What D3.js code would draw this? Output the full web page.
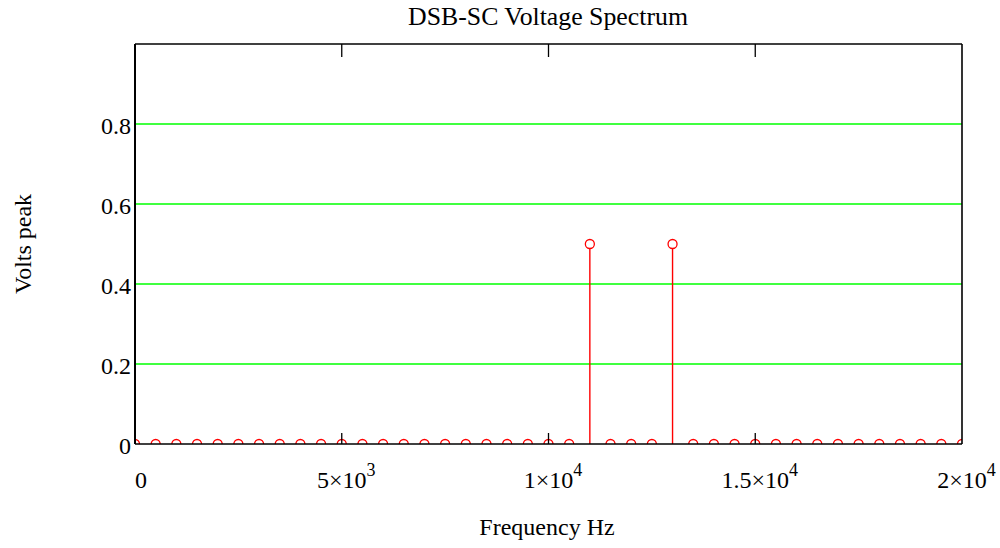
<!DOCTYPE html>
<html><head><meta charset="utf-8">
<script src="https://cdn.jsdelivr.net/npm/d3@7"></script>
<style>body{margin:0;background:#fff}svg{display:block}text{font-family:"Liberation Serif","Times New Roman",serif;fill:#000}</style>
</head><body><svg id="c" width="1000" height="548"></svg>
<script>
// Data
const frequencies = [0,500,1000,1500,2000,2500,3000,3500,4000,4500,5000,5500,6000,6500,7000,7500,8000,8500,9000,9500,10000,10500,11000,11500,12000,12500,13000,13500,14000,14500,15000,15500,16000,16500,17000,17500,18000,18500,19000,19500,20000];
const voltages = [0,0,0,0,0,0,0,0,0,0,0,0,0,0,0,0,0,0,0,0,0,0,0.5,0,0,0,0.5,0,0,0,0,0,0,0,0,0,0,0,0,0,0];
const xTicks = [0,5000,10000,15000,20000];
const xTickMantissa = ["0","5×10","1×10","1.5×10","2×10"];
const xTickExponent = ["","3","4","4","4"];
const yTicks = [0,0.2,0.4,0.6,0.8];
const yTickLabels = ["0","0.2","0.4","0.6","0.8"];
const yGrid = [0.2,0.4,0.6,0.8];

const svg = d3.select("#c");
const L=135,R=962,T=44,B=444;
const x = d3.scaleLinear().domain([0,20000]).range([L,R]);
const y = d3.scaleLinear().domain([0,1]).range([B,T]);

svg.append("defs").append("clipPath").attr("id","clip")
  .append("rect").attr("x",L).attr("y",T).attr("width",R-L).attr("height",B-T);

// gridlines
svg.append("g").selectAll("line").data(yGrid).join("line")
  .attr("x1",L).attr("x2",R).attr("y1",d=>y(d)).attr("y2",d=>y(d))
  .attr("stroke","#00ff00").attr("stroke-width",1.5);

const pts = frequencies.map((f,i)=>({f,v:voltages[i]}));
const g = svg.append("g").attr("clip-path","url(#clip)");
g.selectAll("line.stem").data(pts.filter(d=>d.v>0)).join("line").attr("class","stem")
  .attr("x1",d=>x(d.f)).attr("x2",d=>x(d.f)).attr("y1",y(0)).attr("y2",d=>y(d.v)+4)
  .attr("stroke","#ff0000").attr("stroke-width",1.4);
g.selectAll("circle").data(pts).join("circle")
  .attr("cx",d=>x(d.f)).attr("cy",d=>y(d.v)).attr("r",4.5)
  .attr("fill","none").attr("stroke","#ff0000").attr("stroke-width",1.3);

// frame
svg.append("line").attr("x1",L).attr("x2",R).attr("y1",B).attr("y2",B).attr("stroke","#000").attr("stroke-width",1.6);
svg.append("line").attr("x1",L).attr("x2",R).attr("y1",T).attr("y2",T).attr("stroke","#000").attr("stroke-width",1.6);
svg.append("line").attr("x1",L).attr("x2",L).attr("y1",T).attr("y2",B).attr("stroke","#000").attr("stroke-width",2);
svg.append("line").attr("x1",R).attr("x2",R).attr("y1",T).attr("y2",B).attr("stroke","#000").attr("stroke-width",1.6);

// x tick marks (inner)
const inner = xTicks.filter(d=>d>0&&d<20000);
svg.append("g").selectAll("line").data(inner).join("line")
  .attr("x1",d=>x(d)).attr("x2",d=>x(d)).attr("y1",B).attr("y2",B-11)
  .attr("stroke","#000").attr("stroke-width",1.3);
svg.append("g").selectAll("line").data(inner).join("line")
  .attr("x1",d=>x(d)).attr("x2",d=>x(d)).attr("y1",T).attr("y2",T+13)
  .attr("stroke","#000").attr("stroke-width",1.3);

// x tick labels
const xl = svg.append("g").selectAll("text").data(xTicks).join("text")
  .attr("x",d=>x(d)).attr("y",488).attr("text-anchor","start").attr("font-size",24);
xl.append("tspan").text((d,i)=>xTickMantissa[i]);
xl.each(function(d,i){
  if(xTickExponent[i]){
    d3.select(this).append("tspan").attr("dy",-12).attr("font-size",18).text(xTickExponent[i]);
    const m=this.firstChild.getComputedTextLength();
    d3.select(this).attr("x",x(d)-m/2);
  }
});

// y tick labels
svg.append("g").selectAll("text").data(yTicks).join("text")
  .attr("x",131).attr("y",d=>y(d)+10).attr("text-anchor","end").attr("font-size",24)
  .text((d,i)=>yTickLabels[i]);

// titles
svg.append("text").attr("x",548).attr("y",25).attr("text-anchor","middle").attr("font-size",25.8).text("DSB-SC Voltage Spectrum");
svg.append("text").attr("x",547).attr("y",535).attr("text-anchor","middle").attr("font-size",24).text("Frequency Hz");
svg.append("text").attr("transform","translate(31,244) rotate(-90)").attr("text-anchor","middle").attr("font-size",24).text("Volts peak");
</script></body></html>
